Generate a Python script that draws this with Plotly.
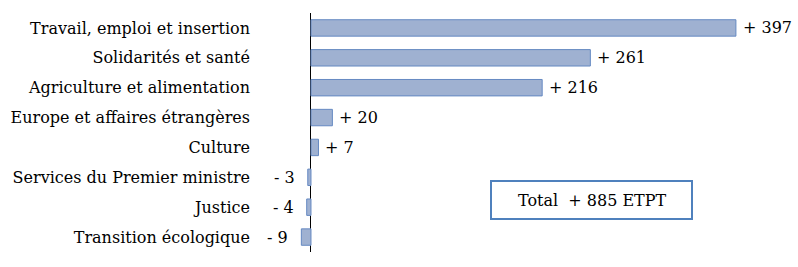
import plotly.graph_objects as go

categories = ["Travail, emploi et insertion", "Solidarités et santé", "Agriculture et alimentation",
              "Europe et affaires étrangères", "Culture", "Services du Premier ministre",
              "Justice", "Transition écologique"]
values = [397, 261, 216, 20, 7, -3, -4, -9]
total_label = "Total  + 885 ETPT"

FONT = "DejaVu Serif"
FS = 16

def fmt(v):
    return ("+ " if v >= 0 else "- ") + str(abs(v))

fig = go.Figure()
fig.add_trace(go.Bar(
    y=categories, x=values, orientation="h",
    marker=dict(color="#9fb1d1", line=dict(color="#6589c2", width=1)),
    width=0.55, hoverinfo="skip",
))

for c, v in zip(categories, values):
    fig.add_annotation(x=v, y=c, text=fmt(v), showarrow=False,
                       xanchor="left" if v >= 0 else "right",
                       xshift=5 if v >= 0 else -11,
                       font=dict(family=FONT, size=FS, color="black"))

fig.add_shape(type="rect", xref="paper", yref="paper",
              x0=(491 - 258) / 540, x1=(692 - 258) / 540,
              y0=(252 - 219) / 239, y1=(252 - 181) / 239,
              line=dict(color="#4f81bd", width=2), fillcolor="white")
fig.add_annotation(xref="paper", yref="paper", x=(592 - 258) / 540, y=(252 - 200) / 239,
                   text=total_label, showarrow=False, xanchor="center", yanchor="middle",
                   font=dict(family=FONT, size=FS, color="black"))

fig.update_layout(
    width=798, height=267,
    margin=dict(l=258, r=0, t=13, b=15),
    paper_bgcolor="white", plot_bgcolor="white",
    showlegend=False,
    font=dict(family=FONT, size=FS, color="black"),
    xaxis=dict(range=[-49.5, 455], showticklabels=False, showgrid=False, ticks="",
               zeroline=True, zerolinecolor="black", zerolinewidth=1, fixedrange=True),
    yaxis=dict(autorange="reversed", showgrid=False, ticks="", ticklabelstandoff=7,
               tickfont=dict(family=FONT, size=FS, color="black")),
)

fig.write_html("out.html")
